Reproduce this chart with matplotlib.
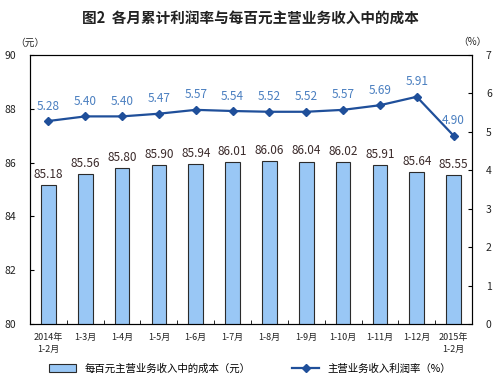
import matplotlib
matplotlib.use("Agg")
import matplotlib.pyplot as plt
import numpy as np
from matplotlib.lines import Line2D
from matplotlib.patches import Patch

plt.rcParams['font.family'] = ['Noto Sans CJK SC', 'DejaVu Sans']

categories = ['2014年\n1-2月', '1-3月', '1-4月', '1-5月', '1-6月', '1-7月', '1-8月',
              '1-9月', '1-10月', '1-11月', '1-12月', '2015年\n1-2月']
cost = [85.18, 85.56, 85.80, 85.90, 85.94, 86.01, 86.06, 86.04, 86.02, 85.91, 85.64, 85.55]
rate = [5.28, 5.40, 5.40, 5.47, 5.57, 5.54, 5.52, 5.52, 5.57, 5.69, 5.91, 4.90]
left_ticks = [80, 82, 84, 86, 88, 90]
right_ticks = [0, 1, 2, 3, 4, 5, 6, 7]

fig = plt.figure(figsize=(5, 3.86), dpi=100)
ax = fig.add_axes([0.06, 0.16, 0.884, 0.698])
x = np.arange(len(categories))
bars = ax.bar(x, cost, width=0.4, color='#99c7f5', edgecolor='#2b2b2b', linewidth=0.8, zorder=2)
ax.set_ylim(80, 90)
ax.set_xlim(-0.5, len(categories) - 0.5)
ax.set_yticks(left_ticks)
ax.set_yticklabels([str(t) for t in left_ticks], fontsize=7.5, color='#222222')
ax.set_xticks(x)
ax.set_xticklabels(categories, fontsize=6.5, color='#222222', linespacing=1.5)
ax.tick_params(axis='x', length=0, pad=6)
ax.set_xticks(np.arange(-0.5, len(categories)), minor=True)
ax.tick_params(axis='x', which='minor', length=3, direction='in')
ax.tick_params(axis='y', length=3, direction='in', pad=10)
for s in ax.spines.values():
    s.set_color('#333333')
    s.set_linewidth(0.8)
for xi, v in zip(x, cost):
    ax.text(xi, v + 0.15, f'{v:.2f}', ha='center', va='bottom', fontsize=8.5, color='#3a2a2a')

ax2 = ax.twinx()
ax2.plot(x, rate, color='#1f4f9a', linewidth=1.6, marker='D', markersize=4, zorder=3)
ax2.set_ylim(0, 7)
ax2.set_yticks(right_ticks)
ax2.set_yticklabels([str(t) for t in right_ticks], fontsize=7.5, color='#222222')
ax2.tick_params(axis='y', length=3, direction='in', pad=10)
for xi, v in zip(x, rate):
    ax2.text(xi, v + 0.22, f'{v:.2f}', ha='center', va='bottom', fontsize=8.5, color='#4a7fc0')

fig.text(0.5, 0.952, '图2  各月累计利润率与每百元主营业务收入中的成本', ha='center', va='center',
         fontsize=10.5, fontweight='bold', color='#222222')
fig.text(0.06, 0.89, '（元）', ha='center', va='center', fontsize=7, color='#222222')
fig.text(0.945, 0.89, '（%）', ha='center', va='center', fontsize=7, color='#222222')

handles = [Patch(facecolor='#99c7f5', edgecolor='#2b2b2b', linewidth=0.8),
           Line2D([0], [0], color='#1f4f9a', linewidth=1.6, marker='D', markersize=4)]
labels = ['每百元主营业务收入中的成本（元）', '主营业务收入利润率（%）']
fig.legend(handles, labels, loc='center', bbox_to_anchor=(0.5, 0.045), ncol=2, frameon=False,
           fontsize=7.5, handlelength=2.6, columnspacing=4)

fig.savefig('out.png', dpi=100)
